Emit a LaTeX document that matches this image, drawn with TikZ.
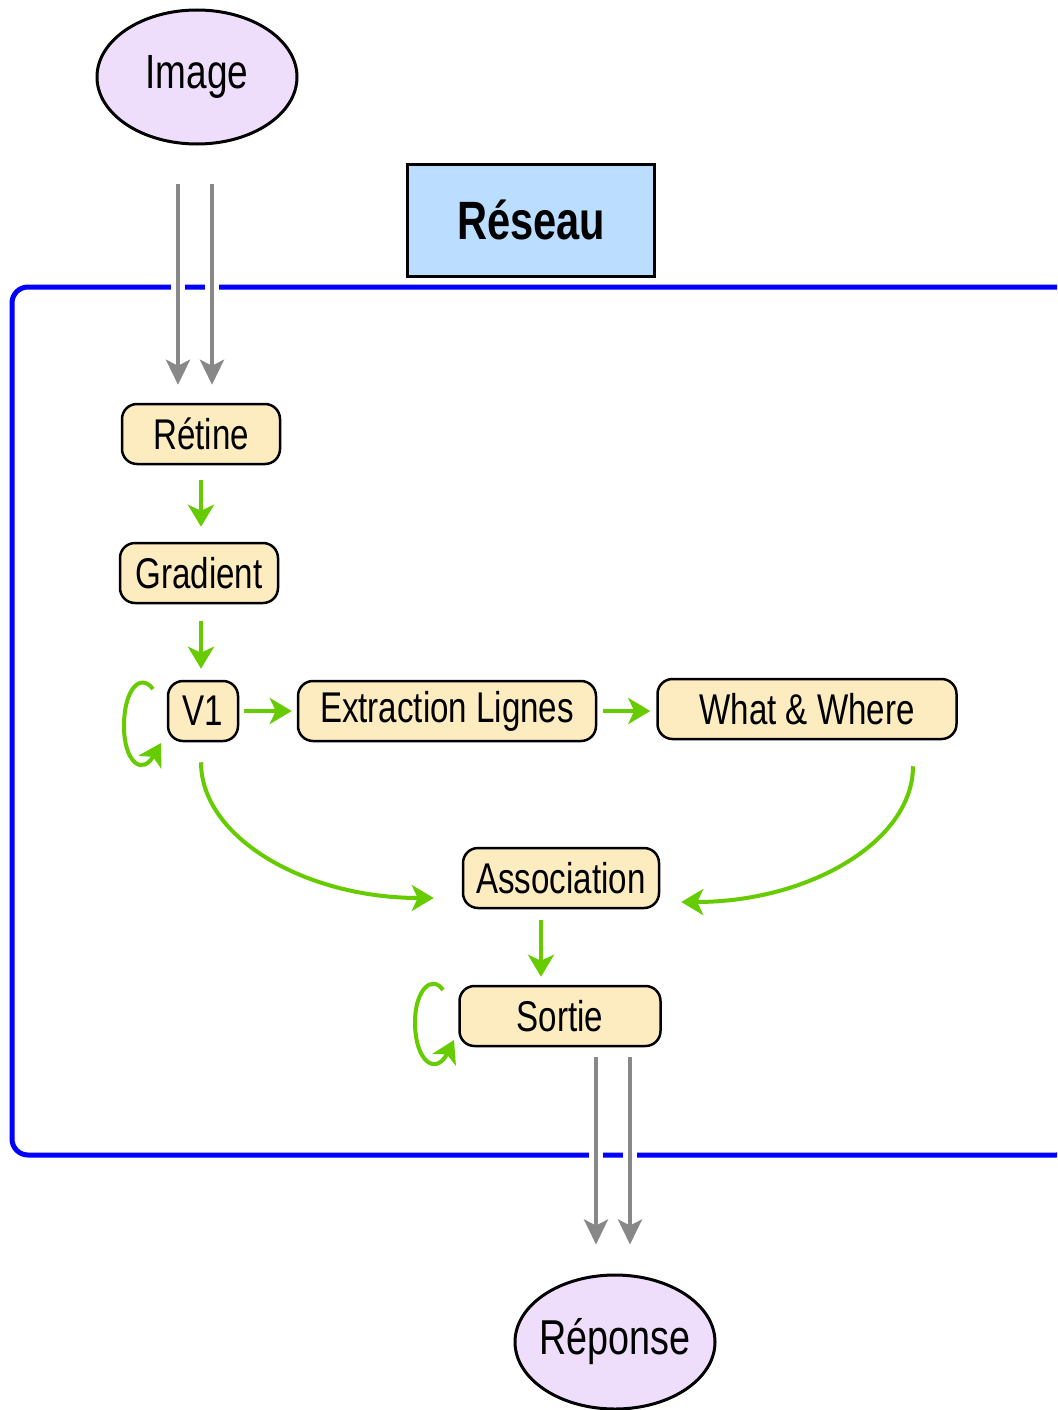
\documentclass[tikz,border=0pt]{standalone}
\usepackage{fontspec}
\setmainfont{Liberation Sans}[FakeStretch=0.77]
\usetikzlibrary{arrows.meta,shapes.geometric}
\definecolor{boxfill}{RGB}{252,236,192}
\definecolor{ellfill}{RGB}{238,222,252}
\definecolor{resfill}{RGB}{187,221,255}
\definecolor{grn}{RGB}{102,204,0}
\definecolor{gry}{RGB}{136,136,136}
\definecolor{frameblue}{RGB}{0,0,255}
\begin{document}
\begin{tikzpicture}[x=1pt,y=-1pt,
 box/.style={draw=black, line width=2.5pt, fill=boxfill, rounded corners=15pt, minimum height=60pt, inner sep=0pt, font=\fontsize{43}{50}\selectfont},
 ell/.style={ellipse, draw=black, line width=3pt, fill=ellfill, minimum width=200pt, minimum height=134pt, inner sep=0pt, font=\fontsize{48}{56}\selectfont},
 garrow/.style={draw=grn, line width=4pt, -{Stealth[length=22pt,width=26pt,inset=6pt]}},
 gyarrow/.style={draw=gry, line width=4pt, -{Stealth[length=25pt,width=24pt,inset=6pt]}, preaction={draw=white, line width=14pt, -}},
 reseaubox/.style={draw=black, line width=3pt, fill=resfill, minimum width=247pt, minimum height=112pt, inner sep=0pt, font=\fontsize{54}{60}\selectfont\bfseries},
 frame/.style={draw=frameblue, line width=5pt, rounded corners=16pt}
]
\useasboundingbox (0,0) rectangle (1057,1410);
\clip (0,0) rectangle (1057,1410);
\fill[white] (0,0) rectangle (1057,1410);

% network frame
\path[frame] (12,287) rectangle (1072,1155);

% nodes
\node[ell] (image) at (197,77) {\makebox[0pt][c]{Image}};
\node[reseaubox] (reseau) at (531,220) {Réseau};
\node[box, minimum width=158pt] (retine) at (201,434) {Rétine};
\node[box, minimum width=158pt] (gradient) at (199,573) {Gradient};
\node[box, minimum width=70pt] (v1) at (203,711) {V1};
\node[box, minimum width=298pt] (extract) at (447,711) {Extraction Lignes};
\node[box, minimum width=299pt] (what) at (807,709) {What \& Where};
\node[box, minimum width=196pt] (assoc) at (561,878) {Association};
\node[box, minimum width=201pt] (sortie) at (560,1016) {Sortie};
\node[ell, font=\fontsize{49}{56}\selectfont] (reponse) at (615,1342) {\makebox[0pt][c]{Réponse}};

% gray input / output arrows
\draw[gyarrow, shorten <=38pt, shorten >=18pt] ([xshift=-19pt]image.south) -- ([xshift=-19pt]image.south |- retine.north);
\draw[gyarrow, shorten <=38pt, shorten >=18pt] ([xshift=15pt]image.south) -- ([xshift=15pt]image.south |- retine.north);
\draw[gyarrow, shorten <=10pt, shorten >=29pt] ([xshift=36pt]sortie.south) -- ([xshift=36pt]sortie.south |- reponse.north);
\draw[gyarrow, shorten <=10pt, shorten >=29pt] ([xshift=70pt]sortie.south) -- ([xshift=70pt]sortie.south |- reponse.north);

% green arrows
\draw[garrow, shorten <=15pt, shorten >=15pt] (retine.south) -- (retine.south |- gradient.north);
\draw[garrow, shorten <=17pt, shorten >=11pt] ([xshift=-2pt]v1.north |- gradient.south) -- ([xshift=-2pt]v1.north);
\draw[garrow, shorten <=5pt, shorten >=5pt] (v1.east) -- (extract.west);
\draw[garrow, shorten <=6pt, shorten >=6pt] (extract.east) -- (extract.east -| what.west);
\draw[garrow, shorten <=11pt, shorten >=8pt] ([xshift=-20pt]assoc.south) -- ([xshift=-20pt]assoc.south |- sortie.north);

% curved arrows to Association
\draw[garrow] ([xshift=-2pt,yshift=-20pt]v1.south) .. controls +(0,75) and +(-129,0) .. ([xshift=-28pt,yshift=-20pt]assoc.west);
\draw[garrow] ([xshift=106pt,yshift=-26pt]what.south) .. controls +(0,75) and +(128,0) .. ([xshift=21pt,yshift=-24pt]assoc.east);

% self loops
\coordinate (v1la) at (153,689);
\coordinate (v1lb) at (161,743);
\draw[garrow] (v1la) .. controls (140,672) and (124,690) .. (124,726) .. controls (124,762) and (142,776) .. (v1lb);
\coordinate (sola) at (443,990);
\coordinate (solb) at (454,1040);
\draw[garrow] (sola) .. controls (432,974) and (415,990) .. (415,1022) .. controls (415,1062) and (436,1076) .. (solb);
\end{tikzpicture}
\end{document}
